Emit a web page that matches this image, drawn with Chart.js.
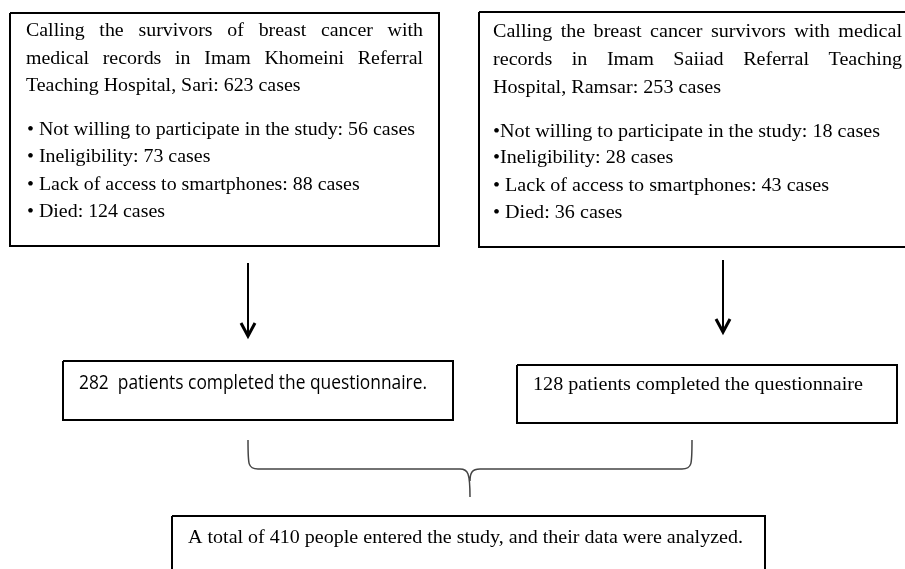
<!DOCTYPE html>
<html><head><meta charset="utf-8">
<script src="https://cdn.jsdelivr.net/npm/chart.js@4/dist/chart.umd.min.js"></script>
<style>html,body{margin:0;padding:0;background:#fff}#wrap{width:905px;height:569px;position:relative}</style>
</head><body><div id="wrap"><canvas id="c"></canvas></div>
<script>
// ---- data ----
const hospitals = ["Imam Khomeini", "Imam Saiiad"];
const cities = ["Sari", "Ramsar"];
const calledCases = [623, 253];
const notWilling = [56, 18];
const ineligible = [73, 28];
const noSmartphone = [88, 43];
const died = [124, 36];
const completed = [282, 128];
const totalAnalyzed = 410;

// ---- text built from data ----
const paraLines = [
  ["Calling the survivors of breast cancer with",
   `medical records in ${hospitals[0]} Referral`,
   `Teaching Hospital, ${cities[0]}: ${calledCases[0]} cases`],
  ["Calling the breast cancer survivors with medical",
   `records in ${hospitals[1]} Referral Teaching`,
   `Hospital, ${cities[1]}: ${calledCases[1]} cases`]
];
const bulletLines = [
  [`\u2022 Not willing to participate in the study: ${notWilling[0]} cases`,
   `\u2022 Ineligibility: ${ineligible[0]} cases`,
   `\u2022 Lack of access to smartphones: ${noSmartphone[0]} cases`,
   `\u2022 Died: ${died[0]} cases`],
  [`\u2022Not willing to participate in the study: ${notWilling[1]} cases`,
   `\u2022Ineligibility: ${ineligible[1]} cases`,
   `\u2022 Lack of access to smartphones: ${noSmartphone[1]} cases`,
   `\u2022 Died: ${died[1]} cases`]
];
const completedLines = [
  `${completed[0]}  patients completed the questionnaire.`,
  `${completed[1]} patients completed the questionnaire`
];
const totalLine = `A total of ${totalAnalyzed} people entered the study, and their data were analyzed.`;

// ---- layout (positions in chart units = px) ----
const L = {
  boxes: [[10,13,439,246],[479,12,912,247],[63,361,453,420],[517,365,897,423],[172,516,765,585]],
  arrows: [[248,263,336],[723,260,332]],
  para: [{x:26,w:397,b:[36,64,91]},{x:493,w:409,b:[37,65,93]}],
  bullets: [{x:27,w:388,b:[135,162,190,217]},{x:493,w:387,b:[137,163,191,218]}],
  comp: [{x:79,w:348,b:389,sans:true},{x:533,w:330,b:390,sans:false}],
  total: {x:188,w:555,b:543},
  brace: {xl:248,xr:692,xm:470,top:440,mid:469,tip:497}
};

const datasets = [];
L.boxes.forEach(b => {
  datasets.push({data:[{x:b[0],y:b[1]},{x:b[2],y:b[1]},{x:b[2],y:b[3]},{x:b[0],y:b[3]},{x:b[0],y:b[1]}],
    showLine:true, borderColor:'#000', borderWidth:2, pointRadius:0, borderJoinStyle:'miter', clip:false, fill:false});
});
L.arrows.forEach(a => {
  datasets.push({data:[{x:a[0],y:a[1]},{x:a[0],y:a[2]}], showLine:true, borderColor:'#000', borderWidth:2, pointRadius:0, clip:false});
  datasets.push({data:[{x:a[0]-7,y:a[2]-13},{x:a[0],y:a[2]},{x:a[0]+7,y:a[2]-13}], showLine:true, borderColor:'#000', borderWidth:3, pointRadius:0, clip:false, borderJoinStyle:'miter'});
});

const SERIF = '"Liberation Serif","Times New Roman",serif';
const SANS = '"Liberation Sans Narrow","Open Sans","Noto Sans",sans-serif';
const textPlugin = {
  id:'flowText',
  afterDatasetsDraw(chart){
    const ctx = chart.ctx, X = chart.scales.x, Y = chart.scales.y;
    const px = v => X.getPixelForValue(v), py = v => Y.getPixelForValue(v);
    ctx.save();
    ctx.fillStyle = '#000';
    ctx.textBaseline = 'alphabetic';
    // brace
    const br = L.brace;
    ctx.strokeStyle = '#444'; ctx.lineWidth = 1.5;
    ctx.beginPath();
    ctx.moveTo(px(br.xl), py(br.top));
    ctx.bezierCurveTo(px(br.xl), py(br.mid-4), px(br.xl), py(br.mid), px(br.xl+10), py(br.mid));
    ctx.lineTo(px(br.xm-10), py(br.mid));
    ctx.bezierCurveTo(px(br.xm-2), py(br.mid), px(br.xm), py(br.mid+4), px(br.xm), py(br.tip));
    ctx.moveTo(px(br.xm), py(br.mid+12));
    ctx.bezierCurveTo(px(br.xm), py(br.mid+4), px(br.xm+2), py(br.mid), px(br.xm+10), py(br.mid));
    ctx.lineTo(px(br.xr-10), py(br.mid));
    ctx.bezierCurveTo(px(br.xr), py(br.mid), px(br.xr), py(br.mid-4), px(br.xr), py(br.top));
    ctx.stroke();

    function fitScale(str, font, w){ ctx.font = font; return w / ctx.measureText(str).width; }
    function drawScaled(str, x, b, font, sx, sy){
      ctx.save(); ctx.font = font; ctx.translate(px(x), py(b)); ctx.scale(sx, sy||1); ctx.fillText(str,0,0); ctx.restore();
    }
    function drawJustified(str, x, b, w, font, sx, sy){
      ctx.font = font;
      const words = str.split(' ');
      const ws = words.map(t => ctx.measureText(t).width * sx);
      const gap = (w - ws.reduce((a,c)=>a+c,0)) / (words.length-1);
      let cx = x;
      words.forEach((t,i) => { drawScaled(t, cx, b, font, sx, sy); cx += ws[i] + gap; });
    }
    const serif = '18px ' + SERIF;
    for (let k=0;k<2;k++){
      const sx = fitScale(bulletLines[k][0], serif, L.bullets[k].w);
      const P = L.para[k];
      paraLines[k].forEach((s,i) => {
        if (i < paraLines[k].length-1) drawJustified(s, P.x, P.b[i], P.w, serif, sx, 1.05);
        else drawScaled(s, P.x, P.b[i], serif, sx, 1.05);
      });
      bulletLines[k].forEach((s,i) => drawScaled(s, L.bullets[k].x, L.bullets[k].b[i], serif, sx, 1.05));
    }
    L.comp.forEach((c,k) => {
      const f = c.sans ? '18px ' + SANS : '18px ' + SERIF;
      drawScaled(completedLines[k], c.x, c.b, f, fitScale(completedLines[k], f, c.w), 1.1);
    });
    drawScaled(totalLine, L.total.x, L.total.b, serif, fitScale(totalLine, serif, L.total.w), 1.05);
    ctx.restore();
  }
};

new Chart(document.getElementById('c'), {
  type:'scatter',
  data:{datasets},
  options:{
    responsive:true, maintainAspectRatio:false, animation:false,
    layout:{padding:0},
    plugins:{legend:{display:false}, tooltip:{enabled:false}},
    scales:{
      x:{type:'linear', min:0, max:905, display:false},
      y:{type:'linear', min:0, max:569, reverse:true, display:false}
    }
  },
  plugins:[textPlugin]
});
</script></body></html>
